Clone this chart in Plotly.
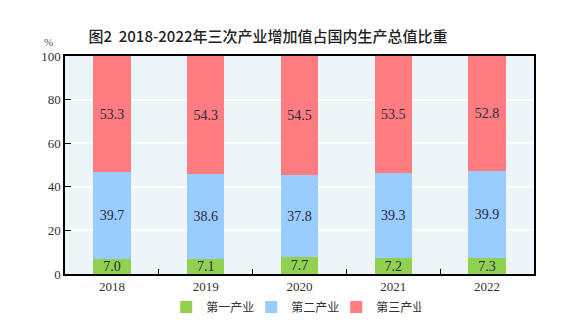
import plotly.graph_objects as go

years = ["2018", "2019", "2020", "2021", "2022"]
primary = [7.0, 7.1, 7.7, 7.2, 7.3]
secondary = [39.7, 38.6, 37.8, 39.3, 39.9]
tertiary = [53.3, 54.3, 54.5, 53.5, 52.8]
series_names = ["第一产业", "第二产业", "第三产业"]
colors = ["#92D050", "#99CCFF", "#FF7C80"]

num_font = "Liberation Serif"
cjk_font = "Noto Sans CJK SC"

fig = go.Figure()
for name, vals, col in zip(series_names, [primary, secondary, tertiary], colors):
    fig.add_trace(go.Bar(
        x=years, y=vals, name=name,
        marker=dict(color=col, line=dict(width=0)),
        text=[f"{v:.1f}" for v in vals],
        textposition="inside", insidetextanchor="middle", constraintext="none",
        textfont=dict(family=num_font, size=14, color="#2a2a40"),
        width=0.4,
    ))

fig.update_layout(
    barmode="stack",
    width=568, height=323,
    margin=dict(l=65, r=34, t=56, b=49, autoexpand=False),
    paper_bgcolor="white",
    plot_bgcolor="#EDF5F8",
    title=dict(text="图2  2018-2022年三次产业增加值占国内生产总值比重",
               x=268/568, xanchor="center", y=1 - 37/323, yanchor="middle",
               font=dict(family=cjk_font, size=15, color="#222222", weight=500)),
    legend=dict(orientation="h", x=277/568, xanchor="center", y=-33/218, yanchor="middle",
                font=dict(family=cjk_font, size=12, color="#333333"),
                itemwidth=30, entrywidth=40, traceorder="normal"),
    showlegend=True,
)
fig.update_yaxes(range=[0, 100], dtick=20, showgrid=True, gridcolor="white", gridwidth=1.5,
                 ticks="inside", ticklen=6, tickcolor="black",
                 showline=True, linecolor="black", linewidth=1.5, mirror=True,
                 tickfont=dict(family=num_font, size=13, color="#333333"), zeroline=False)
fig.update_xaxes(type="category", tickson="boundaries", ticks="inside", ticklen=5,
                 tickcolor="black", showline=True, linecolor="black", linewidth=1.5,
                 mirror=True, tickfont=dict(family=num_font, size=13, color="#333333"))
fig.add_annotation(text="%", xref="paper", yref="paper", x=-17/469, y=1 + 14/218,
                   showarrow=False, font=dict(family=num_font, size=11, color="#555555"),
                   xanchor="center", yanchor="middle")
fig.write_html("out.html")
